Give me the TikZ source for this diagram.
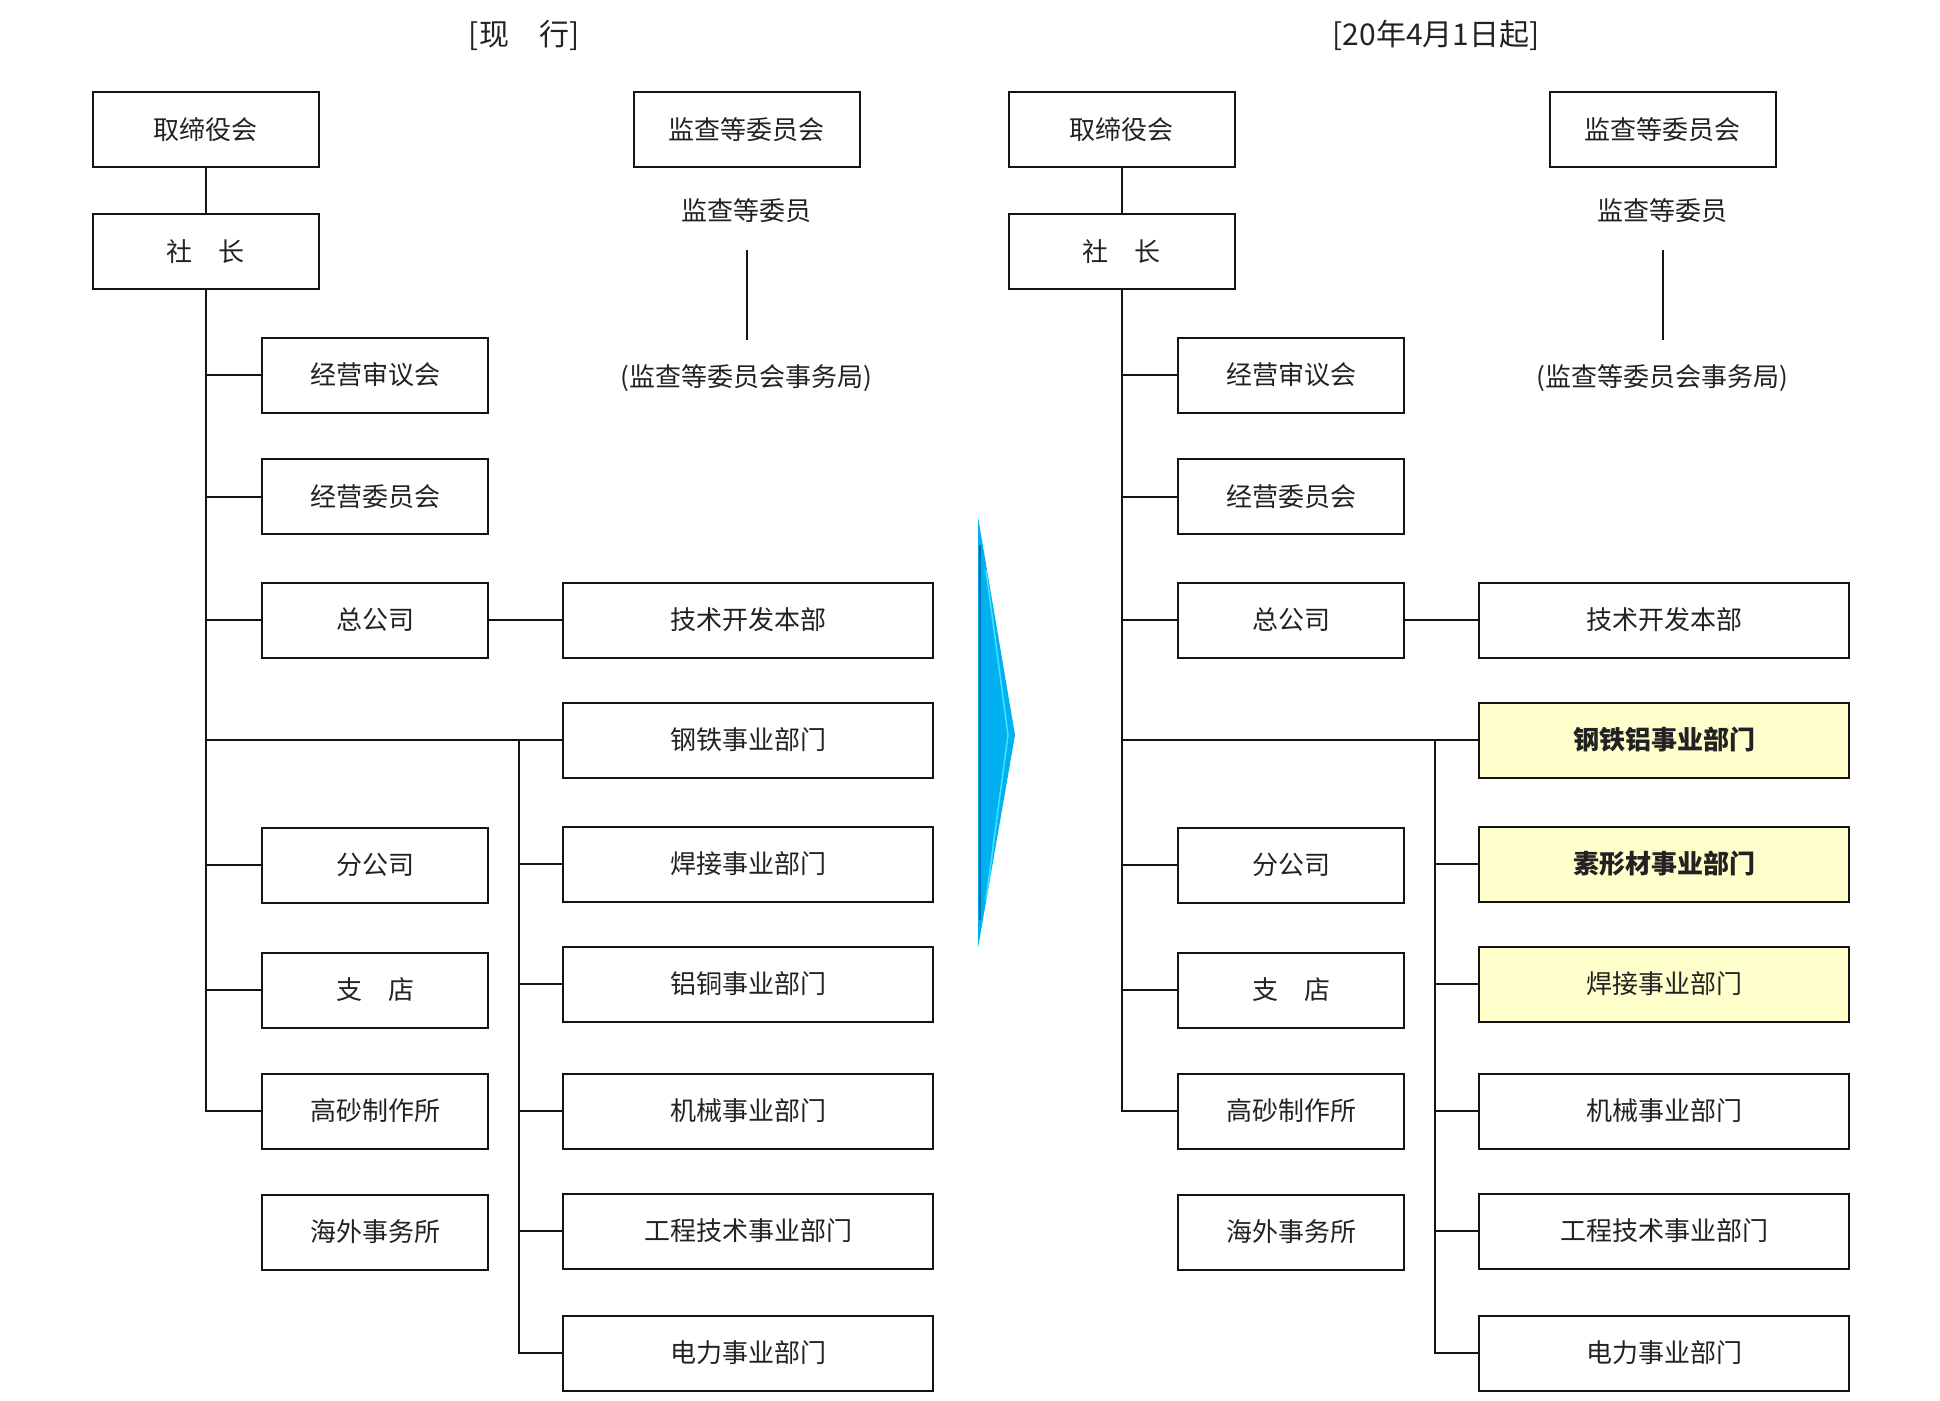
\documentclass[tikz,border=0pt]{standalone}
\usepackage{fontspec}
\setmainfont{Noto Sans CJK SC}
\definecolor{txt}{RGB}{34,34,34}
\definecolor{ln}{RGB}{20,20,20}
\definecolor{hlfill}{RGB}{255,255,204}
\definecolor{arrowmain}{RGB}{0,176,240}
\definecolor{arrowdark}{RGB}{0,110,170}
\definecolor{arrowlight}{RGB}{70,225,255}
\begin{document}
\begin{tikzpicture}[x=1pt,y=-1pt,
  base/.style={draw=ln, line width=2pt, inner sep=0pt, minimum height=75pt, text=txt, font=\fontsize{26pt}{30pt}\selectfont},
  sbox/.style={base, minimum width=226pt},
  wbox/.style={base, minimum width=370pt},
  hl/.style={fill=hlfill},
  hlb/.style={fill=hlfill, font=\fontsize{26pt}{30pt}\selectfont\bfseries},
  lbl/.style={inner sep=0pt, text=txt, font=\fontsize{26pt}{30pt}\selectfont},
  ttl/.style={inner sep=0pt, text=txt, font=\fontsize{30pt}{34pt}\selectfont},
  conn/.style={draw=ln, line width=2pt}]
\useasboundingbox (0,0) rectangle (1940,1400);

% ---------- left panel (current) ----------
\node[ttl] (t1) at (524,35) {[现　行]};
\node[sbox] (a1) at (205.5,129.5) {取缔役会};
\node[sbox] (b1) at (205.5,251.5) {社　长};
\node[sbox] (c1) at (375,375) {经营审议会};
\node[sbox] (d1) at (375,496.5) {经营委员会};
\node[sbox] (e1) at (375,620) {总公司};
\node[sbox] (f1) at (375,865) {分公司};
\node[sbox] (g1) at (375,990) {支　店};
\node[sbox] (h1) at (375,1111) {高砂制作所};
\node[sbox] (i1) at (375,1232) {海外事务所};
\node[sbox] (k1) at (746.5,129.5) {监查等委员会};
\node[lbl] (m1) at (746.5,211) {监查等委员};
\node[lbl] (n1) at (746.5,378) {(监查等委员会事务局)};
\node[wbox] (p1) at (748,620) {技术开发本部};
\node[wbox] (q1) at (748,740) {钢铁事业部门};
\node[wbox] (r1) at (748,864) {焊接事业部门};
\node[wbox] (s1) at (748,984) {铝铜事业部门};
\node[wbox] (u1) at (748,1111) {机械事业部门};
\node[wbox] (v1) at (748,1231) {工程技术事业部门};
\node[wbox] (w1) at (748,1353) {电力事业部门};
\coordinate (j1) at (519,740);

\draw[conn] (a1.south) -- (b1.north);
\draw[conn] (b1.south) |- (h1.west);
\foreach \n in {c1,d1,e1,f1,g1,q1} \draw[conn] (b1.south |- \n.west) -- (\n.west);
\draw[conn] (j1) |- (w1.west);
\foreach \n in {r1,s1,u1,v1} \draw[conn] (j1 |- \n.west) -- (\n.west);
\draw[conn] (e1.east) -- (p1.west);
\draw[conn, shorten <=39pt, shorten >=38pt] (m1.center) -- (n1.center);

% ---------- arrow ----------
\fill[arrowmain] (978,517) -- (1015,735) -- (978,948) -- cycle;
\draw[arrowdark, line width=1.5pt] (980,545) -- (980,920);
\draw[arrowlight, line width=1.5pt] (986,570) -- (1008,735) -- (986,900);

% ---------- right panel (from April 1) ----------
\node[ttl] (t2) at (1436,35) {[20年4月1日起]};
\node[sbox] (a2) at (1121.5,129.5) {取缔役会};
\node[sbox] (b2) at (1121.5,251.5) {社　长};
\node[sbox] (c2) at (1291,375) {经营审议会};
\node[sbox] (d2) at (1291,496.5) {经营委员会};
\node[sbox] (e2) at (1291,620) {总公司};
\node[sbox] (f2) at (1291,865) {分公司};
\node[sbox] (g2) at (1291,990) {支　店};
\node[sbox] (h2) at (1291,1111) {高砂制作所};
\node[sbox] (i2) at (1291,1232) {海外事务所};
\node[sbox] (k2) at (1662.5,129.5) {监查等委员会};
\node[lbl] (m2) at (1662.5,211) {监查等委员};
\node[lbl] (n2) at (1662.5,378) {(监查等委员会事务局)};
\node[wbox] (p2) at (1664,620) {技术开发本部};
\node[wbox, hlb] (q2) at (1664,740) {钢铁铝事业部门};
\node[wbox, hlb] (r2) at (1664,864) {素形材事业部门};
\node[wbox, hl] (s2) at (1664,984) {焊接事业部门};
\node[wbox] (u2) at (1664,1111) {机械事业部门};
\node[wbox] (v2) at (1664,1231) {工程技术事业部门};
\node[wbox] (w2) at (1664,1353) {电力事业部门};
\coordinate (j2) at (1435,740);

\draw[conn] (a2.south) -- (b2.north);
\draw[conn] (b2.south) |- (h2.west);
\foreach \n in {c2,d2,e2,f2,g2,q2} \draw[conn] (b2.south |- \n.west) -- (\n.west);
\draw[conn] (j2) |- (w2.west);
\foreach \n in {r2,s2,u2,v2} \draw[conn] (j2 |- \n.west) -- (\n.west);
\draw[conn] (e2.east) -- (p2.west);
\draw[conn, shorten <=39pt, shorten >=38pt] (m2.center) -- (n2.center);
\end{tikzpicture}
\end{document}
